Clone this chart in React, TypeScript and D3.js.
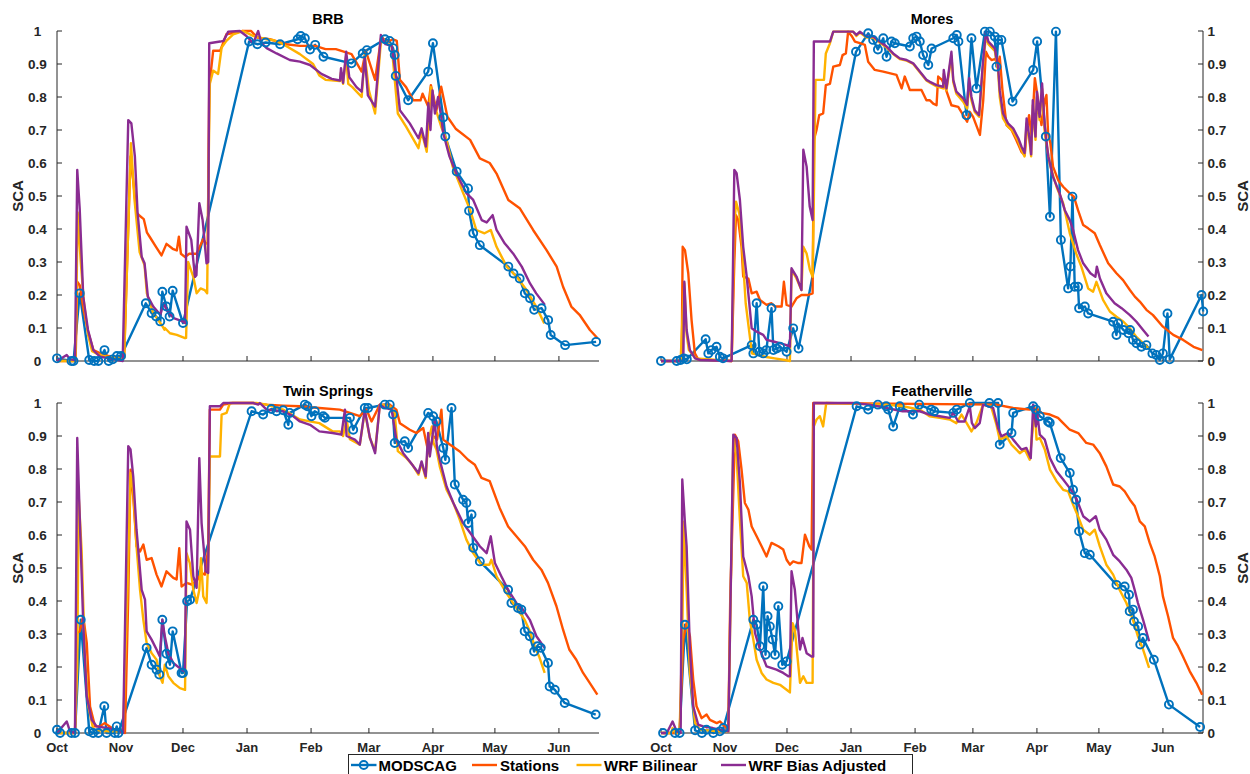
import React from "react";
import * as d3 from "d3";

type Pt = [number, number];

// x values are days since Oct 1
const monthTicks = [0, 31, 61, 92, 123, 151, 182, 212, 243];
const monthLabels = ["Oct", "Nov", "Dec", "Jan", "Feb", "Mar", "Apr", "May", "Jun"];
const yTicks = [0, 0.1, 0.2, 0.3, 0.4, 0.5, 0.6, 0.7, 0.8, 0.9, 1];
const seriesNames = ["MODSCAG", "Stations", "WRF Bilinear", "WRF Bias Adjusted"];
const panelTitles = ["BRB", "Mores", "Twin Springs", "Featherville"];

const brbModscag: Pt[] = [[0,0.008],[7,0],[8,0],[11,0.205],[15.6,0.003],[18,0],[20,0],[23,0.033],[25,0],[27,0.005],[29,0.015],[31,0.015],[43,0.175],[45.8,0.145],[48,0.135],[50,0.12],[51,0.21],[53,0.165],[54.5,0.135],[56,0.213],[61,0.115],[93,0.968],[97,0.96],[101,0.965],[108,0.96],[116.5,0.975],[118,0.985],[120,0.978],[122.5,0.944],[125,0.958],[129,0.922],[142.6,0.902],[148,0.932],[150,0.942],[158.8,0.975],[161,0.97],[162.7,0.948],[163.5,0.927],[164,0.864],[170,0.79],[179.7,0.877],[182,0.963],[187,0.738],[188,0.68],[193.5,0.574],[199,0.523],[199.5,0.455],[201.5,0.387],[204.7,0.351],[218.5,0.286],[221,0.265],[224,0.25],[226.5,0.205],[229,0.19],[231,0.155],[234.6,0.16],[237.8,0.124],[239,0.079],[246,0.048],[261,0.058]];
const brbStations: Pt[] = [[0,0],[9,0],[9.8,0.24],[11,0.23],[13,0.15],[15,0.09],[17.6,0.033],[21,0.023],[25,0.015],[31,0.008],[32.5,0.01],[35.6,0.62],[37,0.54],[38.5,0.45],[40,0.44],[42,0.43],[43.5,0.39],[45,0.375],[48,0.345],[50.6,0.32],[53,0.355],[56,0.34],[58,0.335],[59,0.377],[60,0.325],[62,0.315],[64,0.325],[67.6,0.325],[70.8,0.37],[72,0.355],[73,0.36],[73.7,0.83],[75.6,0.94],[79,0.94],[82,0.99],[90,1.0],[94,1.0],[97,0.98],[103,0.975],[111,0.96],[117.6,0.955],[125,0.955],[130,0.945],[135,0.945],[142.6,0.93],[147.5,0.877],[149.5,0.94],[154,0.852],[157,0.983],[159.5,0.966],[162.7,0.975],[164.5,0.97],[166,0.852],[169,0.83],[172.5,0.79],[176,0.79],[177,0.81],[179.7,0.771],[181,0.836],[183.7,0.76],[186,0.831],[189,0.74],[193,0.704],[200,0.67],[204.7,0.614],[209.5,0.6],[212.8,0.568],[218.5,0.488],[224,0.463],[230.5,0.397],[237,0.336],[241.9,0.286],[245,0.225],[249,0.165],[253,0.14],[258,0.094],[261.7,0.069]];
const brbBilinear: Pt[] = [[0,0],[8,0],[9,0.01],[10,0.45],[11.5,0.3],[13,0.18],[15,0.08],[17,0.03],[20,0.02],[25,0.012],[31,0.008],[32.5,0.01],[35.8,0.66],[37.5,0.49],[40,0.33],[42.4,0.29],[43.5,0.205],[46.6,0.145],[50.6,0.11],[52,0.095],[52.2,0.1],[54.7,0.084],[58,0.079],[62,0.069],[62.5,0.07],[63.5,0.3],[66,0.255],[67.6,0.205],[69.5,0.22],[71.5,0.215],[72.7,0.205],[73.3,0.55],[74,0.84],[75.6,0.88],[78,0.87],[79.7,0.95],[82,0.97],[85.3,0.99],[90,1.0],[95,0.985],[101.5,0.975],[105,0.972],[109.5,0.96],[117.6,0.93],[124,0.9],[127,0.865],[130,0.852],[137,0.848],[137.5,0.875],[138.5,0.84],[140,0.925],[141,0.84],[143,0.83],[147.5,0.8],[149,0.927],[151,0.82],[154,0.75],[157,0.983],[160,0.96],[162,0.957],[165,0.75],[169,0.71],[175,0.645],[176.5,0.695],[179,0.634],[181,0.83],[183,0.77],[186,0.71],[188.6,0.67],[191.5,0.59],[196.7,0.508],[200,0.458],[203,0.397],[207,0.387],[210,0.397],[212.8,0.346],[217.7,0.286],[222.5,0.256],[227.3,0.215],[232,0.165],[235.9,0.114]];
const brbBias: Pt[] = [[0,0],[4.7,0.018],[6.3,0.005],[8.7,0.003],[9.8,0.579],[11,0.46],[12.7,0.195],[15,0.094],[17.6,0.033],[20.8,0.013],[25.6,0.008],[31.8,0],[34.5,0.73],[36,0.72],[37.7,0.62],[39,0.45],[41,0.316],[42.4,0.296],[44,0.195],[46.6,0.165],[50,0.14],[51.6,0.175],[53,0.155],[56.5,0.13],[60.8,0.12],[62,0.115],[62.7,0.407],[65,0.367],[66.8,0.255],[67.5,0.26],[68.9,0.478],[70.5,0.427],[72.4,0.296],[73.2,0.3],[73.7,0.963],[79,0.968],[80.6,0.97],[82.9,0.998],[88.5,1.0],[91.7,0.985],[95,0.963],[97.4,1.0],[99,0.963],[101.5,0.948],[106.3,0.932],[112.7,0.912],[117.6,0.907],[122.5,0.897],[128,0.87],[133,0.855],[137,0.85],[137.5,0.887],[138.5,0.843],[140,0.937],[141.5,0.86],[145,0.83],[147.5,0.816],[149,0.922],[150.5,0.805],[154,0.771],[156.8,0.988],[159,0.96],[162,0.955],[164.5,0.85],[166,0.76],[170.8,0.72],[175,0.675],[176.5,0.705],[178.6,0.65],[179.8,0.781],[180.8,0.7],[181.8,0.82],[183,0.75],[184.5,0.8],[186,0.74],[187,0.69],[190,0.62],[193.5,0.566],[198.3,0.508],[201.5,0.488],[205.6,0.427],[208,0.42],[210.9,0.442],[212.8,0.397],[216.8,0.356],[220.8,0.326],[225,0.286],[229,0.235],[232,0.205],[236.2,0.17]];

const moresModscag: Pt[] = [[0,0],[7.6,0],[9.5,0.003],[11,0.008],[12.5,0.005],[21.6,0.066],[22.9,0.023],[24.5,0.033],[26.9,0.043],[28.5,0.013],[30,0.008],[43.9,0.048],[44.7,0.023],[46.3,0.175],[47.6,0.028],[49.5,0.023],[51,0.033],[53.5,0.16],[54.4,0.033],[56,0.038],[57.6,0.043],[60.8,0.028],[64,0.099],[66.6,0.038],[94.4,0.937],[100.3,0.993],[102.7,0.973],[105,0.944],[107.6,0.978],[109.2,0.922],[111.6,0.968],[113.2,0.963],[120.5,0.953],[122.1,0.978],[123.7,0.983],[125.3,0.968],[126.9,0.927],[129.4,0.897],[131,0.947],[141.5,0.978],[143.2,0.988],[144,0.968],[147.9,0.745],[150.3,0.978],[152.7,0.826],[156.8,0.998],[159.2,0.998],[161.6,0.983],[162.4,0.892],[163.2,0.973],[164.8,0.973],[170.2,0.786],[180.2,0.882],[182.1,0.968],[186.3,0.68],[188.3,0.437],[191.2,0.998],[193.6,0.367],[197.1,0.22],[198.2,0.286],[199.2,0.498],[200.3,0.225],[201.9,0.225],[202.4,0.16],[205.2,0.165],[206.8,0.144],[218.9,0.119],[220.5,0.079],[221.3,0.114],[223.9,0.094],[226.3,0.084],[227.1,0.094],[228.5,0.064],[230.2,0.054],[232.6,0.043],[235,0.048],[237.9,0.023],[239.8,0.018],[241.5,0.003],[243,0.023],[245.2,0.144],[246.3,0.005],[261.7,0.2],[262.5,0.15]];
const moresStations: Pt[] = [[0,0],[10,0],[10.5,0.346],[11.6,0.336],[13.2,0.266],[14.8,0.124],[16.4,0.023],[18,0.005],[34.2,0],[35.5,0.3],[36.3,0.442],[37.4,0.427],[39,0.346],[39.8,0.256],[42.3,0.25],[43.9,0.205],[46.3,0.21],[47.9,0.185],[51.1,0.17],[53.5,0.175],[55.2,0.165],[58.4,0.165],[59.5,0.24],[60.8,0.17],[63.2,0.165],[65.6,0.19],[68,0.2],[71.3,0.2],[73.4,0.205],[74,0.67],[75.3,0.7],[76.6,0.745],[78.5,0.75],[79.8,0.836],[81.8,0.84],[83.4,0.892],[86.6,0.897],[87.9,0.927],[89.5,0.932],[90.6,0.998],[92.3,0.985],[93.9,0.968],[96.3,0.963],[98.7,0.958],[99.5,0.932],[100.3,0.907],[103.5,0.882],[107.6,0.877],[114,0.867],[116.5,0.826],[118,0.862],[120.5,0.821],[126.1,0.821],[128.5,0.79],[130.2,0.79],[131.8,0.78],[133.4,0.775],[134.2,0.862],[136,0.852],[137.5,0.831],[140.6,0.775],[143.9,0.77],[146.3,0.745],[148.2,0.725],[149.5,0.755],[151.1,0.74],[154.4,0.685],[156,0.79],[157.3,0.937],[158.5,0.922],[160,0.912],[161.6,0.915],[163.2,0.902],[164,0.922],[165.3,0.821],[167.3,0.715],[169.7,0.7],[172,0.67],[174.5,0.634],[176.1,0.624],[177,0.695],[178.2,0.745],[179.4,0.68],[181,0.857],[182.1,0.811],[184.2,0.715],[185.8,0.79],[186.6,0.806],[187.4,0.69],[188.5,0.66],[189.8,0.589],[192.3,0.548],[194.7,0.528],[197.9,0.508],[199.9,0.498],[201.9,0.457],[204.4,0.412],[206.8,0.402],[210,0.387],[212.4,0.352],[216.5,0.296],[220.5,0.266],[223.7,0.245],[227,0.215],[229.4,0.195],[231.8,0.18],[235,0.155],[238.2,0.139],[243,0.104],[248,0.079],[252.8,0.064],[257.8,0.043],[262.1,0.033]];
const moresBilinear: Pt[] = [[0,0],[9.5,0],[10.5,0.144],[11.3,0.235],[12.4,0.08],[13.5,0.033],[16.8,0.008],[34.2,0],[35.5,0.4],[36.3,0.483],[37.9,0.447],[39.5,0.326],[41,0.175],[43.5,0.05],[44,0.023],[47.6,0.018],[51,0.012],[55,0.008],[60,0.003],[62.4,0],[63.2,0.276],[65.6,0.25],[68,0.215],[68.9,0.346],[70.5,0.326],[72.1,0.276],[73.4,0.255],[74,0.49],[74.8,0.852],[78.9,0.852],[79.8,0.932],[81.8,0.963],[83.4,0.998],[93,0.998],[94.6,0.985],[96.3,0.995],[99.5,0.98],[102.7,0.98],[105.9,0.965],[109.2,0.95],[112.4,0.93],[115.6,0.915],[118.9,0.91],[122.1,0.9],[125.3,0.875],[128.5,0.85],[130.2,0.843],[133.4,0.832],[136.6,0.826],[136.9,0.87],[138.2,0.82],[140.6,0.925],[141.5,0.845],[143,0.81],[146.3,0.786],[148.2,0.765],[149.2,0.84],[150.3,0.79],[151.9,0.755],[154,0.74],[155.7,0.88],[157.3,0.985],[158.5,0.96],[160,0.95],[161.6,0.94],[163.2,0.88],[164,0.8],[165.6,0.735],[168,0.71],[170.5,0.695],[173,0.665],[174.5,0.64],[176,0.62],[177,0.72],[178.5,0.66],[179.2,0.62],[180,0.775],[181.3,0.67],[182,0.8],[183.3,0.73],[184.5,0.825],[185.8,0.69],[188.3,0.594],[191.5,0.528],[194.7,0.478],[197.9,0.387],[201,0.326],[203.5,0.286],[206.8,0.22],[209.2,0.21],[210.8,0.24],[214,0.185],[217.3,0.15],[220.5,0.134],[223.9,0.119],[227,0.099],[230,0.074],[233.4,0.054],[236,0.038]];
const moresBias: Pt[] = [[0,0],[10.8,0],[11.3,0.24],[12.4,0.094],[14,0.033],[16.5,0.008],[19,0.003],[34.2,0],[35.5,0.579],[36.6,0.569],[38.2,0.488],[39.8,0.346],[41.5,0.256],[43.9,0.099],[46.3,0.089],[49.5,0.079],[51.1,0.064],[54.4,0.059],[57.6,0.054],[60.8,0.048],[62.4,0.043],[63.2,0.281],[65.6,0.256],[68,0.215],[68.9,0.64],[70.5,0.589],[72,0.468],[73.4,0.427],[74,0.968],[81.8,0.968],[83.4,0.998],[93,0.998],[94.6,0.988],[96.3,0.998],[99.5,0.983],[102.7,0.983],[105.9,0.968],[109.2,0.953],[112.4,0.932],[115.6,0.917],[118.9,0.912],[122.1,0.902],[125.3,0.877],[128.5,0.852],[130.2,0.846],[133.4,0.836],[136.6,0.831],[136.9,0.882],[138.2,0.826],[140.6,0.937],[141.5,0.852],[143,0.816],[146.3,0.796],[148.2,0.776],[149.2,0.857],[150.3,0.8],[151.9,0.76],[154,0.745],[155.7,0.892],[157.3,0.998],[158.5,0.968],[160,0.958],[161.6,0.947],[163.2,0.892],[164,0.82],[165.6,0.75],[168,0.72],[170.5,0.705],[173,0.675],[174.5,0.65],[176,0.63],[177,0.735],[178.5,0.67],[179.2,0.626],[180,0.79],[181.3,0.68],[182,0.816],[183.3,0.74],[184.5,0.841],[185.8,0.71],[187.5,0.62],[189.8,0.558],[193,0.508],[195.5,0.457],[197.9,0.427],[199.5,0.397],[201.9,0.336],[204.4,0.296],[207.9,0.266],[210.3,0.255],[211,0.286],[212.5,0.25],[215.6,0.205],[219.6,0.175],[223,0.16],[227,0.139],[230.2,0.119],[233.4,0.094],[236,0.074]];

const twinModscag: Pt[] = [[0,0.01],[1.5,0],[7,0],[8.7,0],[11.5,0.343],[15.6,0.005],[17.5,0],[20,0],[22.9,0.081],[24,0],[28,0],[28.9,0.02],[29.7,0],[43.4,0.258],[45.8,0.207],[48.2,0.192],[49.5,0.177],[51,0.343],[53,0.24],[54.7,0.207],[56,0.308],[60.3,0.182],[61,0.182],[63,0.399],[64.4,0.404],[94.2,0.975],[99.8,0.965],[103.8,0.982],[106.3,0.975],[109.5,0.978],[112,0.934],[112.7,0.97],[120,0.995],[121.2,0.99],[123.2,0.96],[124.8,0.975],[128.9,0.96],[129.7,0.955],[141.8,0.955],[143.4,0.919],[149,0.985],[150.6,0.985],[158.7,0.995],[161.1,0.995],[162.7,0.965],[163.5,0.879],[168.4,0.884],[170,0.864],[179.7,0.97],[182.1,0.96],[183.7,0.944],[187,0.864],[188,0.828],[191,0.985],[192.6,0.753],[196.6,0.707],[198.2,0.697],[199.1,0.636],[200.7,0.662],[201.5,0.561],[204.7,0.52],[218.4,0.434],[220,0.394],[223.2,0.379],[224.8,0.374],[226.4,0.308],[228.9,0.293],[231,0.247],[232.6,0.263],[234.2,0.258],[237.7,0.212],[238.5,0.141],[241,0.131],[245.8,0.091],[260.8,0.056]];
const twinStations: Pt[] = [[0,0],[8.7,0],[9.8,0.303],[11,0.308],[12.7,0.354],[14.4,0.273],[16,0.08],[18.4,0.02],[20.8,0.02],[23,0.03],[25.5,0.02],[28,0.01],[30,0.01],[32.9,0],[34.5,0.414],[35.6,0.798],[36.9,0.717],[38.5,0.566],[40.2,0.55],[41.8,0.571],[43.4,0.525],[45.8,0.53],[48.2,0.48],[50.6,0.444],[53,0.49],[56.3,0.47],[57.9,0.465],[59.2,0.56],[60.3,0.444],[62.7,0.455],[65.2,0.45],[67.6,0.46],[70,0.485],[71.6,0.48],[73.2,0.56],[74,0.98],[78.9,0.98],[80.5,0.995],[85,1.0],[95,1.0],[101.5,0.995],[109.5,0.992],[117.6,0.99],[127,0.985],[136.9,0.98],[141.8,0.97],[146.6,0.96],[149.8,0.98],[152.3,0.944],[156.3,0.995],[161.1,0.995],[164.3,0.98],[166,0.939],[170.8,0.919],[174,0.909],[177.3,0.924],[179.9,0.848],[182.3,0.899],[184,0.889],[186.1,0.98],[187,0.889],[190.2,0.874],[195,0.853],[199,0.828],[202.3,0.813],[205.5,0.773],[209.5,0.763],[214.3,0.682],[218.4,0.626],[222.4,0.596],[226.5,0.566],[230.5,0.525],[234.5,0.495],[237.7,0.455],[241.8,0.384],[245,0.313],[248,0.253],[251.4,0.222],[254.7,0.182],[257.9,0.152],[261.6,0.116]];
const twinBilinear: Pt[] = [[0,0],[8.7,0],[9.8,0.2],[10.5,0.717],[11.9,0.556],[13.5,0.232],[15.2,0.081],[17.6,0.01],[25,0.005],[32,0.005],[34.2,0.45],[35.6,0.788],[36.9,0.737],[38.5,0.566],[40.2,0.434],[41.8,0.343],[43.4,0.273],[45.8,0.242],[48.2,0.222],[49.8,0.172],[51.1,0.152],[52.2,0.207],[53.9,0.172],[56.3,0.152],[59.5,0.136],[62,0.131],[62.7,0.545],[64.3,0.515],[66,0.434],[67.6,0.394],[68.9,0.434],[69.7,0.53],[70.8,0.414],[72.4,0.394],[73.4,0.556],[74,0.838],[78.9,0.838],[79.7,0.965],[82.1,0.97],[83.7,1.0],[96.6,1.0],[101.5,0.995],[109.5,0.98],[117.6,0.95],[127,0.939],[133.4,0.914],[136.9,0.914],[138.5,0.9],[140.2,0.95],[141.8,0.89],[146.6,0.874],[149,0.975],[151.5,0.894],[154,0.854],[156.3,0.995],[161.1,0.99],[163.5,0.97],[165,0.854],[169.2,0.833],[172,0.813],[175,0.783],[176.5,0.818],[178.5,0.773],[179.7,0.884],[181.5,0.929],[182.3,0.879],[183.7,0.859],[185.3,0.808],[188.6,0.737],[191.9,0.697],[195,0.646],[198.2,0.586],[201.5,0.545],[205.5,0.51],[209.3,0.51],[210.3,0.525],[212.8,0.475],[217.6,0.424],[222.4,0.379],[226.4,0.343],[228.9,0.308],[231.3,0.263],[233.4,0.232],[236.1,0.182]];
const twinBias: Pt[] = [[0,0],[4.7,0.035],[6.3,0.005],[8.7,0],[9.8,0.894],[11,0.657],[12.7,0.333],[14.4,0.111],[16.8,0.04],[19.2,0.02],[24,0.015],[29,0.01],[32,0],[34.5,0.869],[35.6,0.859],[36.9,0.778],[38.5,0.616],[41,0.434],[42.6,0.404],[43.4,0.308],[45.8,0.283],[48.2,0.253],[49.8,0.232],[51,0.343],[52.2,0.293],[53.9,0.242],[56.3,0.212],[60.3,0.192],[61.9,0.187],[62.7,0.641],[64.4,0.616],[66,0.475],[67.6,0.44],[68.9,0.833],[70,0.636],[72,0.49],[73.2,0.485],[74,0.99],[78.9,0.99],[80.5,1.0],[95,1.0],[97.4,0.995],[98.2,1.0],[101.5,0.98],[109.5,0.975],[114.4,0.96],[117.6,0.944],[122.5,0.934],[127,0.914],[133.4,0.909],[137.7,0.904],[139.4,0.98],[140.2,0.9],[144.2,0.889],[146.6,0.874],[149,0.98],[151.5,0.894],[154,0.848],[156.3,0.995],[158.7,0.985],[162,0.98],[164.3,0.889],[167.6,0.848],[170.8,0.823],[175,0.788],[176.5,0.823],[178.5,0.778],[179.7,0.909],[180.5,0.838],[182.8,0.95],[183.9,0.869],[185.3,0.828],[188.6,0.747],[191.9,0.697],[196.6,0.636],[200.7,0.601],[204.7,0.566],[208,0.545],[210,0.596],[212,0.515],[215.1,0.475],[218.4,0.434],[222.4,0.394],[225.6,0.374],[228.9,0.343],[232.1,0.293],[236.1,0.258]];

const featModscag: Pt[] = [[1,0],[6.8,0],[9,0],[11.6,0.328],[16.5,0.008],[19.8,0],[22,0.01],[25.3,0],[28.5,0.005],[30.2,0.015],[44.7,0.343],[46.3,0.328],[47.9,0.263],[49.5,0.444],[50.6,0.237],[51.6,0.354],[52.7,0.323],[54,0.283],[55.2,0.237],[56.8,0.384],[58.7,0.207],[60.8,0.217],[94.7,0.99],[100.3,0.98],[105,0.995],[109,0.99],[110,0.98],[112.4,0.929],[115.6,0.99],[122,0.965],[125,0.995],[130.8,0.98],[132.3,0.975],[141.5,0.97],[143.2,0.98],[149.5,1.0],[159,1.0],[163.2,1.0],[164,0.874],[169.7,0.909],[170.5,0.97],[180.2,0.99],[181.5,0.98],[183.4,0.96],[187.4,0.944],[188.2,0.94],[193.5,0.833],[197.9,0.788],[199.5,0.737],[201,0.707],[202.4,0.611],[205.2,0.545],[207.6,0.54],[220.5,0.449],[224.5,0.444],[226.6,0.419],[226.9,0.369],[228.5,0.374],[229,0.338],[231,0.323],[232,0.268],[233.3,0.288],[238.6,0.222],[245.9,0.086],[261,0.018]];
const featStations: Pt[] = [[0,0],[9,0],[10.8,0.283],[12.4,0.333],[14,0.293],[15.6,0.162],[17.2,0.081],[19.7,0.045],[22.1,0.056],[23.7,0.04],[27,0.03],[28.5,0.035],[30.9,0.02],[32.6,0.012],[33.5,0.4],[35.8,0.904],[37.4,0.884],[39,0.798],[40.6,0.697],[42.3,0.677],[43.9,0.626],[46.3,0.596],[48.7,0.566],[51.1,0.535],[53.5,0.576],[56.8,0.566],[59.2,0.556],[60.8,0.525],[62.4,0.51],[64,0.52],[66.5,0.515],[68,0.515],[69.7,0.601],[71.8,0.566],[72.9,0.556],[73.7,1.0],[162.4,0.995],[170.5,0.985],[178.5,0.98],[181.7,0.985],[184.2,0.97],[188.3,0.965],[192.2,0.955],[194.7,0.939],[197.9,0.919],[202,0.909],[205.9,0.879],[209.2,0.874],[212.4,0.848],[215.6,0.808],[218.9,0.753],[222.1,0.747],[224.5,0.732],[227,0.707],[229.4,0.687],[231.8,0.641],[234.2,0.626],[236.6,0.576],[239,0.535],[241.5,0.475],[243,0.414],[245.5,0.354],[247.9,0.288],[250.3,0.263],[252.7,0.232],[256,0.187],[259.2,0.152],[262,0.116]];
const featBilinear: Pt[] = [[0,0],[5,0],[5.6,0.015],[7,0],[9,0],[10.3,0.3],[11,0.64],[12.4,0.434],[14,0.182],[16.5,0.03],[19,0.01],[28,0.005],[32.6,0.005],[35,0.889],[36.6,0.838],[38.2,0.646],[39.8,0.475],[41.5,0.455],[43,0.343],[44.7,0.283],[46.3,0.222],[48.7,0.182],[51.1,0.162],[54.4,0.152],[57.6,0.146],[60.8,0.131],[62.4,0.123],[63.7,0.333],[64.8,0.313],[67.3,0.152],[68.9,0.172],[70.5,0.152],[73.4,0.152],[74,0.929],[75.3,0.95],[76.9,0.96],[78.5,0.929],[80,1.0],[109,0.995],[117,0.99],[125.3,0.98],[130,0.96],[134.9,0.955],[139.8,0.95],[143,0.939],[145.5,0.965],[148,0.939],[150.3,0.914],[152.7,0.94],[155.9,0.995],[159.8,0.99],[162.4,0.934],[164,0.889],[167.3,0.899],[169.7,0.874],[173.7,0.848],[176.1,0.859],[178.5,0.828],[181,0.985],[181.8,0.889],[183.4,0.894],[185.8,0.859],[188.3,0.798],[191.5,0.763],[194.7,0.737],[197.1,0.732],[199.5,0.692],[201.9,0.657],[204.4,0.616],[207.6,0.601],[210,0.616],[212.4,0.566],[215.6,0.51],[218.9,0.48],[222,0.434],[225.3,0.394],[228.5,0.343],[230.9,0.293],[233.4,0.253],[236.3,0.197]];
const featBias: Pt[] = [[0,0],[2.8,0],[5.6,0.035],[7.6,0.005],[9.5,0],[10.3,0.768],[11.6,0.636],[12.4,0.566],[14,0.253],[15.6,0.081],[18,0.025],[20.5,0.02],[25,0.015],[28.5,0.01],[32.6,0.005],[35,0.904],[36.6,0.894],[38.2,0.758],[39.8,0.535],[42.3,0.475],[43.9,0.414],[45.5,0.303],[47.9,0.253],[51.1,0.202],[55.9,0.192],[59.2,0.182],[61.6,0.172],[62.4,0.172],[63.2,0.49],[64.8,0.434],[67.3,0.253],[68.5,0.288],[70.5,0.242],[72.9,0.232],[73.7,0.232],[74,1.0],[93,1.0],[101,0.995],[109,0.985],[117,0.975],[125.3,0.975],[130,0.965],[134.9,0.96],[139.8,0.955],[141.5,0.97],[143.9,0.944],[147,0.944],[149.5,0.99],[150.5,0.94],[151.9,0.924],[154.3,0.939],[155.9,0.995],[160.8,0.985],[163.2,0.924],[164.8,0.899],[168,0.909],[170.5,0.889],[174.5,0.859],[176.9,0.864],[179,0.833],[180.2,0.995],[181.5,0.929],[182.1,0.97],[183.4,0.904],[185.8,0.889],[188.3,0.833],[191.5,0.793],[194.7,0.768],[197.9,0.742],[201,0.712],[204.4,0.657],[207.6,0.641],[210.5,0.657],[212.4,0.616],[215.6,0.586],[218.9,0.54],[222.1,0.52],[225.3,0.495],[227.7,0.47],[229.3,0.434],[230.9,0.394],[233.4,0.343],[236.3,0.278]];

const panelSeries: Pt[][][] = [
  [brbModscag, brbStations, brbBilinear, brbBias],
  [moresModscag, moresStations, moresBilinear, moresBias],
  [twinModscag, twinStations, twinBilinear, twinBias],
  [featModscag, featStations, featBilinear, featBias],
];

const COLORS = ["#0072BD", "#FF5200", "#FFB200", "#8A2C92"];
const AXIS = "#262626";
const FONT = "'Liberation Sans', Arial, Helvetica, sans-serif";

const frames = [
  { x0: 57, x1: 599, yTop: 31, yBot: 361, side: "left", xlabels: false },
  { x0: 661, x1: 1203, yTop: 31, yBot: 361, side: "right", xlabels: false },
  { x0: 57, x1: 599, yTop: 403, yBot: 733, side: "left", xlabels: true },
  { x0: 661, x1: 1203, yTop: 403, yBot: 733, side: "right", xlabels: true },
];

const X_MAX = 262.4;

function Panel({ idx }: { idx: number }) {
  const f = frames[idx];
  const x = d3.scaleLinear().domain([0, X_MAX]).range([f.x0, f.x1]);
  const y = d3.scaleLinear().domain([0, 1]).range([f.yBot, f.yTop]);
  const line = d3.line<Pt>().x((d) => x(d[0])).y((d) => y(d[1]));
  const series = panelSeries[idx];
  const axX = f.side === "left" ? f.x0 : f.x1;
  const tickDir = f.side === "left" ? 1 : -1;
  const clipId = `clip${idx}`;
  const cx = (f.x0 + f.x1) / 2;
  const cy = (f.yTop + f.yBot) / 2;
  return (
    <g>
      <defs>
        <clipPath id={clipId}>
          <rect x={f.x0 - 6} y={f.yTop - 6} width={f.x1 - f.x0 + 12} height={f.yBot - f.yTop + 12} />
        </clipPath>
      </defs>
      <line x1={f.x0} x2={f.x1} y1={f.yBot} y2={f.yBot} stroke={AXIS} strokeWidth={1} />
      <line x1={axX} x2={axX} y1={f.yTop} y2={f.yBot} stroke={AXIS} strokeWidth={1} />
      {yTicks.map((t) => (
        <g key={"y" + t}>
          <line x1={axX} x2={axX + tickDir * 5} y1={y(t)} y2={y(t)} stroke={AXIS} strokeWidth={1} />
          <text
            x={f.side === "left" ? 37.5 : axX + 4.5}
            y={y(t)}
            dy="0.36em"
            textAnchor={f.side === "left" ? "middle" : "start"}
            fontSize={13.5}
            fontWeight="bold"
            fontFamily={FONT}
            fill={AXIS}
          >
            {d3.format("~g")(t)}
          </text>
        </g>
      ))}
      {monthTicks.map((m, i) => (
        <g key={"x" + m}>
          <line x1={x(m)} x2={x(m)} y1={f.yBot} y2={f.yBot - 5} stroke={AXIS} strokeWidth={1} />
          {f.xlabels && (
            <text x={x(m)} y={f.yBot + 18.5} textAnchor="middle" fontSize={13} fontWeight="bold" fontFamily={FONT} fill={AXIS}>
              {monthLabels[i]}
            </text>
          )}
        </g>
      ))}
      <text
        transform={`translate(${f.side === "left" ? 23 : 1248},${cy}) rotate(-90)`}
        textAnchor="middle"
        fontSize={15}
        fontWeight="bold"
        fontFamily={FONT}
        fill={AXIS}
      >
        SCA
      </text>
      <text x={cx} y={f.yTop - 6.7} textAnchor="middle" fontSize={14.5} fontWeight="bold" fontFamily={FONT} fill="#000">
        {panelTitles[idx]}
      </text>
      <g clipPath={`url(#${clipId})`}>
        {series.map((s, si) => (
          <path key={si} d={line(s) || ""} fill="none" stroke={COLORS[si]} strokeWidth={2.4} strokeLinejoin="round" />
        ))}
        {series[0].map((d, i) => (
          <circle key={"m" + i} cx={x(d[0])} cy={y(d[1])} r={4} fill="none" stroke={COLORS[0]} strokeWidth={1.9} />
        ))}
      </g>
    </g>
  );
}

const legendLayout = [
  { l0: 351, l1: 376.5, tx: 378.5 },
  { l0: 472, l1: 497, tx: 500 },
  { l0: 576.5, l1: 601.5, tx: 604 },
  { l0: 721, l1: 746, tx: 748.5 },
];

export default function App() {
  const ly = 765;
  return (
    <svg
      width={1250}
      height={774}
      viewBox="0 0 1250 774"
      style={{ position: "absolute", left: 0, top: 0, display: "block", background: "#fff" }}
    >
      <rect x={0} y={0} width={1250} height={774} fill="#fff" />
      {[0, 1, 2, 3].map((i) => (
        <Panel key={i} idx={i} />
      ))}
      <rect x={348.5} y={754.5} width={564} height={26} fill="#fff" stroke={AXIS} strokeWidth={1} />
      {seriesNames.map((n, i) => {
        const L = legendLayout[i];
        return (
          <g key={n}>
            <line x1={L.l0} x2={L.l1} y1={ly} y2={ly} stroke={COLORS[i]} strokeWidth={2.4} />
            {i === 0 && <circle cx={(L.l0 + L.l1) / 2} cy={ly} r={4} fill="none" stroke={COLORS[0]} strokeWidth={1.9} />}
            <text x={L.tx} y={ly + 5.5} fontSize={15} fontWeight="bold" fontFamily={FONT} fill="#000">
              {n}
            </text>
          </g>
        );
      })}
    </svg>
  );
}
